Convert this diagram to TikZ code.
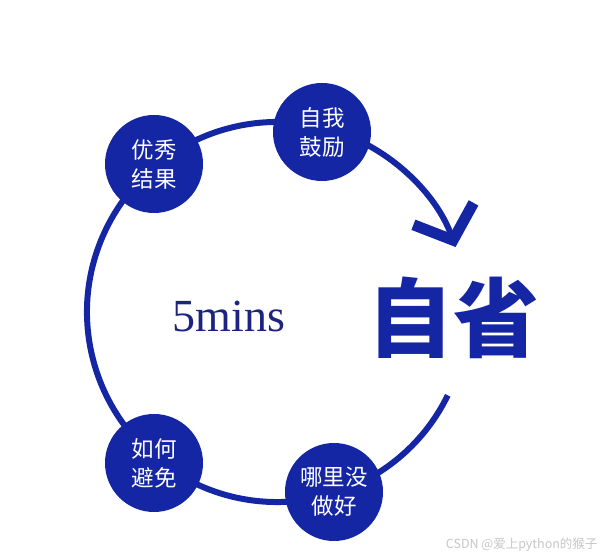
\documentclass[tikz,border=0pt]{standalone}
\usepackage{fontspec}
\setmainfont{Liberation Serif}
\newfontfamily\cjk{Noto Sans CJK SC}
\usetikzlibrary{arrows.meta}
\definecolor{ringblue}{RGB}{20,38,164}
\definecolor{navy}{RGB}{28,36,128}

\tikzset{
  phase/.style={circle, fill=ringblue, minimum size=98pt, inner sep=0pt,
    text=white, align=center, font=\cjk\fontsize{22.5}{29}\selectfont},
}

\begin{document}
\begin{tikzpicture}[x=1pt,y=1pt]
    \useasboundingbox (0,0) rectangle (606,560);
    \coordinate (ctr) at (277,248);

    % Ring with arrow
    \draw[ringblue, line width=6pt,
          -{Straight Barb[sharp, length=28pt, width=64pt, line width=11pt]}]
        (ctr) ++(-26:190pt) arc[start angle=-26, end angle=-340, radius=190pt];

    % Steps on the ring
    \node[phase] (youxiu) at (154,396) {优秀\\结果};
    \node[phase] (ziwo) at (322,428) {自我\\鼓励};
    \node[phase] (ruhe) at (154,97) {如何\\避免};
    \node[phase] (nali) at (334,68) {哪里没\\做好};

    % Labels
    \node[navy, font=\fontsize{46}{50}\selectfont] (mins) at (229,244) {5mins};
    \node[ringblue, font=\cjk\bfseries\fontsize{86}{90}\selectfont] (zixing) at (453,242) {自省};
    \node[gray!45, anchor=east, font=\cjk\fontsize{12.5}{14}\selectfont] (mark) at (601,15) {CSDN @爱上python的猴子};
\end{tikzpicture}
\end{document}
